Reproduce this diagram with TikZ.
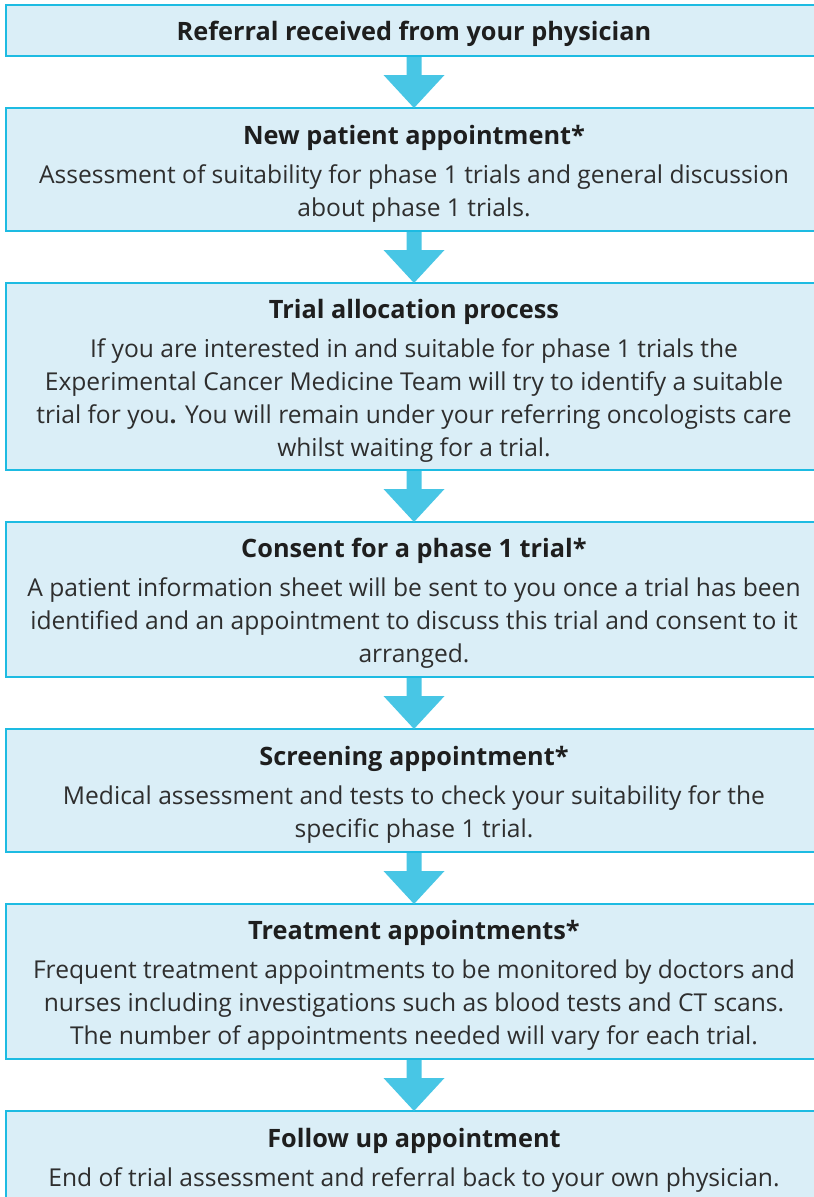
\documentclass[tikz,border=0pt]{standalone}
\usepackage{fontspec}
\setmainfont{Open Sans}
\usetikzlibrary{positioning,calc}
\definecolor{boxfill}{HTML}{DAEEF7}
\definecolor{boxline}{HTML}{1DBBE2}
\definecolor{arrowblue}{HTML}{48C6E5}
\definecolor{bodytext}{HTML}{2E2E2E}
\definecolor{titletext}{HTML}{1E1E1E}
\newcommand{\stagetitle}[1]{{\fontsize{25.3}{33}\selectfont\bfseries\color{titletext}\rule{0pt}{27pt}#1}}

\begin{document}
\begin{tikzpicture}[x=1pt, y=1pt, node distance=52pt,
    stage/.style={rectangle, draw=boxline, fill=boxfill, line width=2pt, outer sep=0pt, inner sep=0pt,
      minimum width=816pt, align=center, text=bodytext, font=\fontsize{24.6}{33}\selectfont}]
  \useasboundingbox (0,0) rectangle (814,-1197);
  \clip (0,0) rectangle (814,-1197);

  % Referral
  \node[stage, minimum height=51pt, anchor=north] (referral) at (414,-5)
    {\stagetitle{Referral received from your physician}};

  % New patient
  \node[stage, minimum height=123pt, below=of referral] (newpatient)
    {\stagetitle{New patient appointment*}\\[6pt]
    Assessment of suitability for phase 1 trials and general discussion\\ about phase 1 trials.};

  % Trial allocation
  \node[stage, minimum height=187pt, below=of newpatient] (allocation)
    {\stagetitle{Trial allocation process}\\[6pt]
    If you are interested in and suitable for phase 1 trials the\\
    Experimental Cancer Medicine Team will try to identify a suitable\\
    trial for you\textbf{.} You will remain under your referring oncologists care\\
    whilst waiting for a trial.};

  % Consent
  \node[stage, minimum height=155pt, below=of allocation] (consent)
    {\stagetitle{Consent for a phase 1 trial*}\\[6pt]
    A patient information sheet will be sent to you once a trial has been\\
    identified and an appointment to discuss this trial and consent to it\\
    arranged.};

  % Screening
  \node[stage, minimum height=123pt, below=of consent] (screening)
    {\stagetitle{Screening appointment*}\\[6pt]
    Medical assessment and tests to check your suitability for the\\ specific phase 1 trial.};

  % Treatment
  \node[stage, minimum height=155pt, below=of screening] (treatment)
    {\stagetitle{Treatment appointments*}\\[6pt]
    Frequent treatment appointments to be monitored by doctors and\\
    nurses including investigations such as blood tests and CT scans.\\
    The number of appointments needed will vary for each trial.};

  % Follow up
  \node[stage, minimum height=91pt, below=of treatment] (followup)
    {\stagetitle{Follow up appointment}\\[6pt]
    End of trial assessment and referral back to your own physician.};

  % Block arrows between the stages
  \foreach \a/\b in {referral/newpatient, newpatient/allocation, allocation/consent,
      consent/screening, screening/treatment, treatment/followup}
    \fill[arrowblue] ($(\a.south)+(-7.5,-1)$) -- ($(\a.south)+(-7.5,-19)$) -- ($(\a.south)+(-30.5,-19)$)
      -- (\b.north) -- ($(\a.south)+(30.5,-19)$) -- ($(\a.south)+(7.5,-19)$) -- ($(\a.south)+(7.5,-1)$) -- cycle;
\end{tikzpicture}
\end{document}
